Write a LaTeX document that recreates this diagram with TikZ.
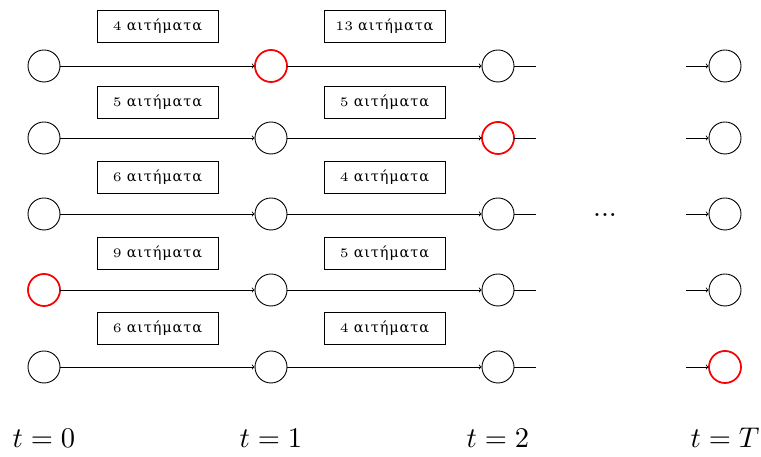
\documentclass[tikz,border=0pt]{standalone}
\usepackage{graphicx}
\usepackage{fontspec}
\newfontfamily\greekfont[LetterSpace=6]{DejaVu Serif}
\newcommand{\reqtext}[1]{\scalebox{2.6}{\fontsize{5}{6}\selectfont #1}\hspace{5pt}{\greekfont\fontsize{14.5}{17}\selectfont αιτήματα}}
\begin{document}
\begin{tikzpicture}[x=1pt,y=1pt,
  st/.style={circle, draw=black, minimum size=32pt, inner sep=0pt, line width=0.9pt},
  rst/.style={st, draw=red, line width=1.7pt},
  lab/.style={draw, minimum width=121pt, minimum height=32pt, inner sep=0pt, line width=0.8pt},
  arr/.style={->, line width=0.9pt},
  ln/.style={line width=0.9pt},
  tl/.style={scale=2.85, anchor=base}]
\useasboundingbox (0,0) rectangle (761,457);
% states
\foreach \r/\y in {1/391,2/319,3/243,4/167,5/90}{
  \foreach \c/\x in {0/44,1/271,2/498,3/725}{
    \node[st] (n\r\c) at (\x,\y) {};
  }
  \coordinate (s\r) at (536,\y);
  \coordinate (p\r) at (686,\y);
}
% red states
\foreach \r/\c in {1/1,2/2,4/0,5/3}{
  \node[rst] at (n\r\c) {};
}
% connectors
\foreach \r in {1,...,5}{
  \draw[arr] (n\r0) -- (n\r1);
  \draw[arr] (n\r1) -- (n\r2);
  \draw[ln] (n\r2) -- (s\r);
  \draw[arr] (p\r) -- (n\r3);
}
% request labels
\foreach \r/\y/\a/\b in {1/431/4/13,2/355/5/5,3/280/6/4,4/204/9/5,5/129/6/4}{
  \node[lab] (a\r) at (157.5,\y) {\reqtext{\a}};
  \node[lab] (b\r) at (384.5,\y) {\reqtext{\b}};
}
% dots
\node[tl] (dots) at (605,240) {...};
% time labels
\node[tl] (t0) at (44,9) {$t=0$};
\node[tl] (t1) at (271,9) {$t=1$};
\node[tl] (t2) at (498,9) {$t=2$};
\node[tl] (tT) at (725,9) {$t=T$};
\end{tikzpicture}
\end{document}
